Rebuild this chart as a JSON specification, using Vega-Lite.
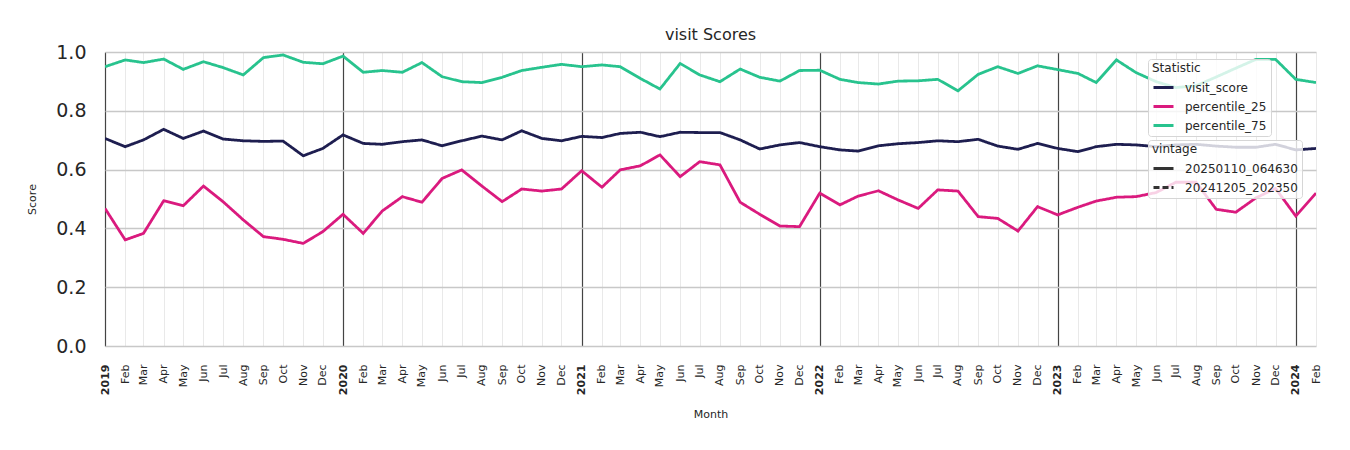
{
  "$schema": "https://vega.github.io/schema/vega-lite/v6.json",
  "width": 1211,
  "height": 294,
  "autosize": {"type": "none"},
  "padding": {"left": 105, "top": 52, "right": 34, "bottom": 104},
  "background": "white",
  "title": {"text": "visit Scores", "fontSize": 16, "fontWeight": "normal", "font": "DejaVu Sans", "color": "#262626", "offset": 0},
  "config": {
    "view": {"stroke": null},
    "font": "DejaVu Sans",
    "axis": {"labelColor": "#262626", "titleColor": "#262626", "titleFontWeight": "normal", "titleFont": "DejaVu Sans", "labelFont": "DejaVu Sans"},
    "legend": {"labelFont": "DejaVu Sans", "titleFont": "DejaVu Sans"}
  },
  "data": {"values": [
    {"month":"2019-01-01","statistic":"visit_score","value":0.706,"vintage":"20250110_064630"},
    {"month":"2019-02-01","statistic":"visit_score","value":0.678,"vintage":"20250110_064630"},
    {"month":"2019-03-01","statistic":"visit_score","value":0.701,"vintage":"20250110_064630"},
    {"month":"2019-04-01","statistic":"visit_score","value":0.737,"vintage":"20250110_064630"},
    {"month":"2019-05-01","statistic":"visit_score","value":0.706,"vintage":"20250110_064630"},
    {"month":"2019-06-01","statistic":"visit_score","value":0.731,"vintage":"20250110_064630"},
    {"month":"2019-07-01","statistic":"visit_score","value":0.704,"vintage":"20250110_064630"},
    {"month":"2019-08-01","statistic":"visit_score","value":0.698,"vintage":"20250110_064630"},
    {"month":"2019-09-01","statistic":"visit_score","value":0.696,"vintage":"20250110_064630"},
    {"month":"2019-10-01","statistic":"visit_score","value":0.697,"vintage":"20250110_064630"},
    {"month":"2019-11-01","statistic":"visit_score","value":0.647,"vintage":"20250110_064630"},
    {"month":"2019-12-01","statistic":"visit_score","value":0.672,"vintage":"20250110_064630"},
    {"month":"2020-01-01","statistic":"visit_score","value":0.718,"vintage":"20250110_064630"},
    {"month":"2020-02-01","statistic":"visit_score","value":0.689,"vintage":"20250110_064630"},
    {"month":"2020-03-01","statistic":"visit_score","value":0.686,"vintage":"20250110_064630"},
    {"month":"2020-04-01","statistic":"visit_score","value":0.695,"vintage":"20250110_064630"},
    {"month":"2020-05-01","statistic":"visit_score","value":0.701,"vintage":"20250110_064630"},
    {"month":"2020-06-01","statistic":"visit_score","value":0.681,"vintage":"20250110_064630"},
    {"month":"2020-07-01","statistic":"visit_score","value":0.698,"vintage":"20250110_064630"},
    {"month":"2020-08-01","statistic":"visit_score","value":0.714,"vintage":"20250110_064630"},
    {"month":"2020-09-01","statistic":"visit_score","value":0.701,"vintage":"20250110_064630"},
    {"month":"2020-10-01","statistic":"visit_score","value":0.732,"vintage":"20250110_064630"},
    {"month":"2020-11-01","statistic":"visit_score","value":0.706,"vintage":"20250110_064630"},
    {"month":"2020-12-01","statistic":"visit_score","value":0.698,"vintage":"20250110_064630"},
    {"month":"2021-01-01","statistic":"visit_score","value":0.713,"vintage":"20250110_064630"},
    {"month":"2021-02-01","statistic":"visit_score","value":0.709,"vintage":"20250110_064630"},
    {"month":"2021-03-01","statistic":"visit_score","value":0.723,"vintage":"20250110_064630"},
    {"month":"2021-04-01","statistic":"visit_score","value":0.727,"vintage":"20250110_064630"},
    {"month":"2021-05-01","statistic":"visit_score","value":0.712,"vintage":"20250110_064630"},
    {"month":"2021-06-01","statistic":"visit_score","value":0.727,"vintage":"20250110_064630"},
    {"month":"2021-07-01","statistic":"visit_score","value":0.726,"vintage":"20250110_064630"},
    {"month":"2021-08-01","statistic":"visit_score","value":0.726,"vintage":"20250110_064630"},
    {"month":"2021-09-01","statistic":"visit_score","value":0.701,"vintage":"20250110_064630"},
    {"month":"2021-10-01","statistic":"visit_score","value":0.670,"vintage":"20250110_064630"},
    {"month":"2021-11-01","statistic":"visit_score","value":0.684,"vintage":"20250110_064630"},
    {"month":"2021-12-01","statistic":"visit_score","value":0.692,"vintage":"20250110_064630"},
    {"month":"2022-01-01","statistic":"visit_score","value":0.678,"vintage":"20250110_064630"},
    {"month":"2022-02-01","statistic":"visit_score","value":0.667,"vintage":"20250110_064630"},
    {"month":"2022-03-01","statistic":"visit_score","value":0.663,"vintage":"20250110_064630"},
    {"month":"2022-04-01","statistic":"visit_score","value":0.681,"vintage":"20250110_064630"},
    {"month":"2022-05-01","statistic":"visit_score","value":0.688,"vintage":"20250110_064630"},
    {"month":"2022-06-01","statistic":"visit_score","value":0.692,"vintage":"20250110_064630"},
    {"month":"2022-07-01","statistic":"visit_score","value":0.698,"vintage":"20250110_064630"},
    {"month":"2022-08-01","statistic":"visit_score","value":0.695,"vintage":"20250110_064630"},
    {"month":"2022-09-01","statistic":"visit_score","value":0.703,"vintage":"20250110_064630"},
    {"month":"2022-10-01","statistic":"visit_score","value":0.680,"vintage":"20250110_064630"},
    {"month":"2022-11-01","statistic":"visit_score","value":0.669,"vintage":"20250110_064630"},
    {"month":"2022-12-01","statistic":"visit_score","value":0.689,"vintage":"20250110_064630"},
    {"month":"2023-01-01","statistic":"visit_score","value":0.672,"vintage":"20250110_064630"},
    {"month":"2023-02-01","statistic":"visit_score","value":0.661,"vintage":"20250110_064630"},
    {"month":"2023-03-01","statistic":"visit_score","value":0.678,"vintage":"20250110_064630"},
    {"month":"2023-04-01","statistic":"visit_score","value":0.686,"vintage":"20250110_064630"},
    {"month":"2023-05-01","statistic":"visit_score","value":0.684,"vintage":"20250110_064630"},
    {"month":"2023-06-01","statistic":"visit_score","value":0.678,"vintage":"20250110_064630"},
    {"month":"2023-07-01","statistic":"visit_score","value":0.684,"vintage":"20250110_064630"},
    {"month":"2023-08-01","statistic":"visit_score","value":0.686,"vintage":"20250110_064630"},
    {"month":"2023-09-01","statistic":"visit_score","value":0.680,"vintage":"20250110_064630"},
    {"month":"2023-10-01","statistic":"visit_score","value":0.676,"vintage":"20250110_064630"},
    {"month":"2023-11-01","statistic":"visit_score","value":0.676,"vintage":"20250110_064630"},
    {"month":"2023-12-01","statistic":"visit_score","value":0.686,"vintage":"20250110_064630"},
    {"month":"2024-01-01","statistic":"visit_score","value":0.667,"vintage":"20250110_064630"},
    {"month":"2024-02-01","statistic":"visit_score","value":0.672,"vintage":"20250110_064630"},
    {"month":"2019-01-01","statistic":"percentile_25","value":0.468,"vintage":"20250110_064630"},
    {"month":"2019-02-01","statistic":"percentile_25","value":0.361,"vintage":"20250110_064630"},
    {"month":"2019-03-01","statistic":"percentile_25","value":0.383,"vintage":"20250110_064630"},
    {"month":"2019-04-01","statistic":"percentile_25","value":0.494,"vintage":"20250110_064630"},
    {"month":"2019-05-01","statistic":"percentile_25","value":0.477,"vintage":"20250110_064630"},
    {"month":"2019-06-01","statistic":"percentile_25","value":0.544,"vintage":"20250110_064630"},
    {"month":"2019-07-01","statistic":"percentile_25","value":0.491,"vintage":"20250110_064630"},
    {"month":"2019-08-01","statistic":"percentile_25","value":0.429,"vintage":"20250110_064630"},
    {"month":"2019-09-01","statistic":"percentile_25","value":0.372,"vintage":"20250110_064630"},
    {"month":"2019-10-01","statistic":"percentile_25","value":0.363,"vintage":"20250110_064630"},
    {"month":"2019-11-01","statistic":"percentile_25","value":0.349,"vintage":"20250110_064630"},
    {"month":"2019-12-01","statistic":"percentile_25","value":0.389,"vintage":"20250110_064630"},
    {"month":"2020-01-01","statistic":"percentile_25","value":0.448,"vintage":"20250110_064630"},
    {"month":"2020-02-01","statistic":"percentile_25","value":0.383,"vintage":"20250110_064630"},
    {"month":"2020-03-01","statistic":"percentile_25","value":0.459,"vintage":"20250110_064630"},
    {"month":"2020-04-01","statistic":"percentile_25","value":0.508,"vintage":"20250110_064630"},
    {"month":"2020-05-01","statistic":"percentile_25","value":0.489,"vintage":"20250110_064630"},
    {"month":"2020-06-01","statistic":"percentile_25","value":0.570,"vintage":"20250110_064630"},
    {"month":"2020-07-01","statistic":"percentile_25","value":0.599,"vintage":"20250110_064630"},
    {"month":"2020-08-01","statistic":"percentile_25","value":0.544,"vintage":"20250110_064630"},
    {"month":"2020-09-01","statistic":"percentile_25","value":0.491,"vintage":"20250110_064630"},
    {"month":"2020-10-01","statistic":"percentile_25","value":0.534,"vintage":"20250110_064630"},
    {"month":"2020-11-01","statistic":"percentile_25","value":0.527,"vintage":"20250110_064630"},
    {"month":"2020-12-01","statistic":"percentile_25","value":0.534,"vintage":"20250110_064630"},
    {"month":"2021-01-01","statistic":"percentile_25","value":0.596,"vintage":"20250110_064630"},
    {"month":"2021-02-01","statistic":"percentile_25","value":0.540,"vintage":"20250110_064630"},
    {"month":"2021-03-01","statistic":"percentile_25","value":0.599,"vintage":"20250110_064630"},
    {"month":"2021-04-01","statistic":"percentile_25","value":0.613,"vintage":"20250110_064630"},
    {"month":"2021-05-01","statistic":"percentile_25","value":0.650,"vintage":"20250110_064630"},
    {"month":"2021-06-01","statistic":"percentile_25","value":0.576,"vintage":"20250110_064630"},
    {"month":"2021-07-01","statistic":"percentile_25","value":0.627,"vintage":"20250110_064630"},
    {"month":"2021-08-01","statistic":"percentile_25","value":0.616,"vintage":"20250110_064630"},
    {"month":"2021-09-01","statistic":"percentile_25","value":0.489,"vintage":"20250110_064630"},
    {"month":"2021-10-01","statistic":"percentile_25","value":0.448,"vintage":"20250110_064630"},
    {"month":"2021-11-01","statistic":"percentile_25","value":0.408,"vintage":"20250110_064630"},
    {"month":"2021-12-01","statistic":"percentile_25","value":0.406,"vintage":"20250110_064630"},
    {"month":"2022-01-01","statistic":"percentile_25","value":0.520,"vintage":"20250110_064630"},
    {"month":"2022-02-01","statistic":"percentile_25","value":0.480,"vintage":"20250110_064630"},
    {"month":"2022-03-01","statistic":"percentile_25","value":0.510,"vintage":"20250110_064630"},
    {"month":"2022-04-01","statistic":"percentile_25","value":0.528,"vintage":"20250110_064630"},
    {"month":"2022-05-01","statistic":"percentile_25","value":0.497,"vintage":"20250110_064630"},
    {"month":"2022-06-01","statistic":"percentile_25","value":0.468,"vintage":"20250110_064630"},
    {"month":"2022-07-01","statistic":"percentile_25","value":0.531,"vintage":"20250110_064630"},
    {"month":"2022-08-01","statistic":"percentile_25","value":0.527,"vintage":"20250110_064630"},
    {"month":"2022-09-01","statistic":"percentile_25","value":0.440,"vintage":"20250110_064630"},
    {"month":"2022-10-01","statistic":"percentile_25","value":0.434,"vintage":"20250110_064630"},
    {"month":"2022-11-01","statistic":"percentile_25","value":0.391,"vintage":"20250110_064630"},
    {"month":"2022-12-01","statistic":"percentile_25","value":0.474,"vintage":"20250110_064630"},
    {"month":"2023-01-01","statistic":"percentile_25","value":0.446,"vintage":"20250110_064630"},
    {"month":"2023-02-01","statistic":"percentile_25","value":0.472,"vintage":"20250110_064630"},
    {"month":"2023-03-01","statistic":"percentile_25","value":0.493,"vintage":"20250110_064630"},
    {"month":"2023-04-01","statistic":"percentile_25","value":0.506,"vintage":"20250110_064630"},
    {"month":"2023-05-01","statistic":"percentile_25","value":0.508,"vintage":"20250110_064630"},
    {"month":"2023-06-01","statistic":"percentile_25","value":0.522,"vintage":"20250110_064630"},
    {"month":"2023-07-01","statistic":"percentile_25","value":0.557,"vintage":"20250110_064630"},
    {"month":"2023-08-01","statistic":"percentile_25","value":0.557,"vintage":"20250110_064630"},
    {"month":"2023-09-01","statistic":"percentile_25","value":0.465,"vintage":"20250110_064630"},
    {"month":"2023-10-01","statistic":"percentile_25","value":0.455,"vintage":"20250110_064630"},
    {"month":"2023-11-01","statistic":"percentile_25","value":0.504,"vintage":"20250110_064630"},
    {"month":"2023-12-01","statistic":"percentile_25","value":0.536,"vintage":"20250110_064630"},
    {"month":"2024-01-01","statistic":"percentile_25","value":0.442,"vintage":"20250110_064630"},
    {"month":"2024-02-01","statistic":"percentile_25","value":0.520,"vintage":"20250110_064630"},
    {"month":"2019-01-01","statistic":"percentile_75","value":0.950,"vintage":"20250110_064630"},
    {"month":"2019-02-01","statistic":"percentile_75","value":0.973,"vintage":"20250110_064630"},
    {"month":"2019-03-01","statistic":"percentile_75","value":0.964,"vintage":"20250110_064630"},
    {"month":"2019-04-01","statistic":"percentile_75","value":0.976,"vintage":"20250110_064630"},
    {"month":"2019-05-01","statistic":"percentile_75","value":0.941,"vintage":"20250110_064630"},
    {"month":"2019-06-01","statistic":"percentile_75","value":0.967,"vintage":"20250110_064630"},
    {"month":"2019-07-01","statistic":"percentile_75","value":0.947,"vintage":"20250110_064630"},
    {"month":"2019-08-01","statistic":"percentile_75","value":0.922,"vintage":"20250110_064630"},
    {"month":"2019-09-01","statistic":"percentile_75","value":0.981,"vintage":"20250110_064630"},
    {"month":"2019-10-01","statistic":"percentile_75","value":0.990,"vintage":"20250110_064630"},
    {"month":"2019-11-01","statistic":"percentile_75","value":0.965,"vintage":"20250110_064630"},
    {"month":"2019-12-01","statistic":"percentile_75","value":0.960,"vintage":"20250110_064630"},
    {"month":"2020-01-01","statistic":"percentile_75","value":0.986,"vintage":"20250110_064630"},
    {"month":"2020-02-01","statistic":"percentile_75","value":0.931,"vintage":"20250110_064630"},
    {"month":"2020-03-01","statistic":"percentile_75","value":0.937,"vintage":"20250110_064630"},
    {"month":"2020-04-01","statistic":"percentile_75","value":0.931,"vintage":"20250110_064630"},
    {"month":"2020-05-01","statistic":"percentile_75","value":0.964,"vintage":"20250110_064630"},
    {"month":"2020-06-01","statistic":"percentile_75","value":0.916,"vintage":"20250110_064630"},
    {"month":"2020-07-01","statistic":"percentile_75","value":0.899,"vintage":"20250110_064630"},
    {"month":"2020-08-01","statistic":"percentile_75","value":0.896,"vintage":"20250110_064630"},
    {"month":"2020-09-01","statistic":"percentile_75","value":0.914,"vintage":"20250110_064630"},
    {"month":"2020-10-01","statistic":"percentile_75","value":0.937,"vintage":"20250110_064630"},
    {"month":"2020-11-01","statistic":"percentile_75","value":0.948,"vintage":"20250110_064630"},
    {"month":"2020-12-01","statistic":"percentile_75","value":0.958,"vintage":"20250110_064630"},
    {"month":"2021-01-01","statistic":"percentile_75","value":0.950,"vintage":"20250110_064630"},
    {"month":"2021-02-01","statistic":"percentile_75","value":0.956,"vintage":"20250110_064630"},
    {"month":"2021-03-01","statistic":"percentile_75","value":0.950,"vintage":"20250110_064630"},
    {"month":"2021-04-01","statistic":"percentile_75","value":0.910,"vintage":"20250110_064630"},
    {"month":"2021-05-01","statistic":"percentile_75","value":0.874,"vintage":"20250110_064630"},
    {"month":"2021-06-01","statistic":"percentile_75","value":0.961,"vintage":"20250110_064630"},
    {"month":"2021-07-01","statistic":"percentile_75","value":0.922,"vintage":"20250110_064630"},
    {"month":"2021-08-01","statistic":"percentile_75","value":0.899,"vintage":"20250110_064630"},
    {"month":"2021-09-01","statistic":"percentile_75","value":0.942,"vintage":"20250110_064630"},
    {"month":"2021-10-01","statistic":"percentile_75","value":0.914,"vintage":"20250110_064630"},
    {"month":"2021-11-01","statistic":"percentile_75","value":0.901,"vintage":"20250110_064630"},
    {"month":"2021-12-01","statistic":"percentile_75","value":0.937,"vintage":"20250110_064630"},
    {"month":"2022-01-01","statistic":"percentile_75","value":0.938,"vintage":"20250110_064630"},
    {"month":"2022-02-01","statistic":"percentile_75","value":0.907,"vintage":"20250110_064630"},
    {"month":"2022-03-01","statistic":"percentile_75","value":0.896,"vintage":"20250110_064630"},
    {"month":"2022-04-01","statistic":"percentile_75","value":0.891,"vintage":"20250110_064630"},
    {"month":"2022-05-01","statistic":"percentile_75","value":0.901,"vintage":"20250110_064630"},
    {"month":"2022-06-01","statistic":"percentile_75","value":0.902,"vintage":"20250110_064630"},
    {"month":"2022-07-01","statistic":"percentile_75","value":0.907,"vintage":"20250110_064630"},
    {"month":"2022-08-01","statistic":"percentile_75","value":0.868,"vintage":"20250110_064630"},
    {"month":"2022-09-01","statistic":"percentile_75","value":0.924,"vintage":"20250110_064630"},
    {"month":"2022-10-01","statistic":"percentile_75","value":0.950,"vintage":"20250110_064630"},
    {"month":"2022-11-01","statistic":"percentile_75","value":0.927,"vintage":"20250110_064630"},
    {"month":"2022-12-01","statistic":"percentile_75","value":0.953,"vintage":"20250110_064630"},
    {"month":"2023-01-01","statistic":"percentile_75","value":0.940,"vintage":"20250110_064630"},
    {"month":"2023-02-01","statistic":"percentile_75","value":0.927,"vintage":"20250110_064630"},
    {"month":"2023-03-01","statistic":"percentile_75","value":0.896,"vintage":"20250110_064630"},
    {"month":"2023-04-01","statistic":"percentile_75","value":0.973,"vintage":"20250110_064630"},
    {"month":"2023-05-01","statistic":"percentile_75","value":0.930,"vintage":"20250110_064630"},
    {"month":"2023-06-01","statistic":"percentile_75","value":0.899,"vintage":"20250110_064630"},
    {"month":"2023-07-01","statistic":"percentile_75","value":0.879,"vintage":"20250110_064630"},
    {"month":"2023-08-01","statistic":"percentile_75","value":0.885,"vintage":"20250110_064630"},
    {"month":"2023-09-01","statistic":"percentile_75","value":0.915,"vintage":"20250110_064630"},
    {"month":"2023-10-01","statistic":"percentile_75","value":0.945,"vintage":"20250110_064630"},
    {"month":"2023-11-01","statistic":"percentile_75","value":0.975,"vintage":"20250110_064630"},
    {"month":"2023-12-01","statistic":"percentile_75","value":0.975,"vintage":"20250110_064630"},
    {"month":"2024-01-01","statistic":"percentile_75","value":0.907,"vintage":"20250110_064630"},
    {"month":"2024-02-01","statistic":"percentile_75","value":0.896,"vintage":"20250110_064630"}
  ]},
  "mark": {"type": "line", "strokeWidth": 2.8, "clip": true},
  "encoding": {
    "x": {
      "field": "month", "type": "temporal", "title": "Month",
      "scale": {"type": "utc", "domain": ["2019-01-01", "2024-02-01"], "nice": false},
      "axis": {
        "tickCount": {"interval": "month", "step": 1},
        "labelExpr": "utcmonth(datum.value) == 0 ? utcFormat(datum.value, '%Y') : utcFormat(datum.value, '%b')",
        "labelAngle": -90,
        "labelAlign": "right",
        "labelBaseline": "middle",
        "labelFontSize": 11,
        "labelFontWeight": {"condition": {"test": "utcmonth(datum.value) == 0", "value": "bold"}, "value": "normal"},
        "labelPadding": 18,
        "labelOverlap": false,
        "labelFlush": false,
        "ticks": false,
        "domain": false,
        "grid": true,
        "gridColor": {"condition": {"test": "utcmonth(datum.value) == 0", "value": "#444444"}, "value": "#e3e3e3"},
        "gridWidth": {"condition": {"test": "utcmonth(datum.value) == 0", "value": 1.2}, "value": 0.8},
        "gridOpacity": 1,
        "titleFontSize": 11,
        "titlePadding": 14
      }
    },
    "y": {
      "field": "value", "type": "quantitative", "title": "Score",
      "scale": {"domain": [0, 1], "nice": false, "zero": true},
      "axis": {
        "values": [0, 0.2, 0.4, 0.6, 0.8, 1.0],
        "format": ".1f",
        "labelFontSize": 19,
        "labelPadding": 19,
        "ticks": false,
        "domain": false,
        "grid": true,
        "gridColor": "#c8c8c8",
        "gridWidth": 1.6,
        "gridOpacity": 1,
        "titleFontSize": 11,
        "titlePadding": 18
      }
    },
    "color": {
      "field": "statistic", "type": "nominal",
      "scale": {"domain": ["visit_score", "percentile_25", "percentile_75"], "range": ["#1e1e50", "#da1a7e", "#28c38e"]},
      "legend": {
        "title": "Statistic", "orient": "none", "legendX": 1043, "legendY": 7,
        "fillColor": "rgba(255,255,255,0.8)", "strokeColor": "#d6d6d6", "padding": 4, "cornerRadius": 3,
        "titleFontSize": 12, "titleFontWeight": "normal", "titleColor": "#262626", "titlePadding": 1,
        "labelFontSize": 12, "labelColor": "#262626",
        "symbolType": "stroke", "symbolSize": 400, "symbolStrokeWidth": 3, "rowPadding": 1, "labelOffset": 10
      }
    },
    "strokeDash": {
      "field": "vintage", "type": "nominal",
      "scale": {"domain": ["20250110_064630", "20241205_202350"], "range": [[1, 0], [6, 3]]},
      "legend": {
        "title": "vintage", "orient": "none", "legendX": 1043, "legendY": 88,
        "fillColor": "rgba(255,255,255,0.8)", "strokeColor": "#d6d6d6", "padding": 4, "cornerRadius": 3,
        "titleFontSize": 12, "titleFontWeight": "normal", "titleColor": "#262626", "titlePadding": 1,
        "labelFontSize": 12, "labelColor": "#262626",
        "symbolType": "stroke", "symbolSize": 400, "symbolStrokeWidth": 3, "symbolStrokeColor": "#333333", "rowPadding": 1, "labelOffset": 10
      }
    }
  }
}
